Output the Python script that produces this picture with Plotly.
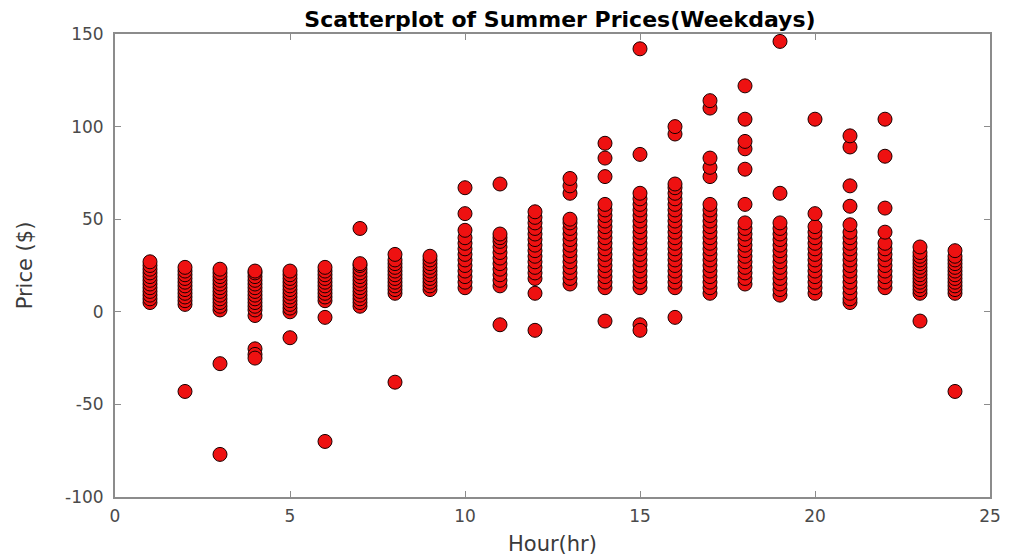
import plotly.graph_objects as go

hours = list(range(1, 25))
prices_by_hour = [
    [5, 7, 9, 11, 13, 15, 17, 19, 21, 23, 25, 27],                         # 1
    [4, 6, 8, 10, 12, 14, 16, 18, 20, 22, 24, -43],                        # 2
    [1, 3, 5, 7, 9, 11, 13, 15, 17, 19, 21, 23, -28, -77],                 # 3
    [-2, 1, 3, 5, 7, 9, 11, 13, 15, 17, 19, 21, 22, -20, -23, -25],        # 4
    [0, 2, 4, 6, 8, 10, 12, 14, 16, 18, 20, 22, -14],                      # 5
    [6, 8, 10, 12, 14, 16, 18, 20, 22, 24, -3, -70],                       # 6
    [3, 5, 7, 9, 11, 13, 15, 17, 19, 21, 23, 25, 26, 45],                  # 7
    [10, 12, 14, 16, 18, 20, 22, 24, 26, 28, 31, -38],                     # 8
    [12, 14, 16, 18, 20, 22, 24, 26, 28, 30],                              # 9
    [13, 16, 19, 22, 25, 28, 31, 34, 37, 40, 44, 53, 67],                  # 10
    [14, 17, 20, 23, 26, 29, 32, 35, 38, 40, 42, 69, -7],                  # 11
    [18, 21, 24, 27, 30, 33, 36, 39, 42, 45, 48, 51, 54, 10, -10],         # 12
    [15, 18, 21, 24, 27, 30, 33, 36, 39, 42, 45, 48, 50, 64, 68, 72],      # 13
    [13, 16, 19, 22, 25, 28, 31, 34, 37, 40, 43, 46, 49, 52, 55, 58,
     73, 83, 91, -5],                                                      # 14
    [13, 16, 19, 22, 25, 28, 31, 34, 37, 40, 43, 46, 49, 52, 55, 58,
     61, 64, 85, 142, -7, -10],                                            # 15
    [13, 16, 19, 22, 25, 28, 31, 34, 37, 40, 43, 46, 49, 52, 55, 58,
     61, 64, 67, 69, 96, 100, -3],                                         # 16
    [10, 13, 16, 19, 22, 25, 28, 31, 34, 37, 40, 43, 46, 49, 52, 55,
     58, 73, 78, 83, 110, 114],                                            # 17
    [15, 18, 21, 24, 27, 30, 33, 36, 39, 42, 45, 48, 58, 77, 88, 92,
     104, 122],                                                            # 18
    [9, 12, 15, 18, 21, 24, 27, 30, 33, 36, 39, 42, 45, 48, 64, 146],      # 19
    [10, 13, 16, 19, 22, 25, 28, 31, 34, 37, 40, 43, 46, 53, 104],         # 20
    [5, 7, 10, 13, 16, 19, 22, 25, 28, 31, 34, 37, 40, 43, 47, 57, 68,
     89, 95],                                                              # 21
    [13, 16, 19, 22, 25, 28, 31, 34, 37, 43, 56, 84, 104],                 # 22
    [10, 12, 14, 16, 18, 20, 22, 24, 26, 28, 30, 32, 35, -5],              # 23
    [10, 12, 14, 16, 18, 20, 22, 24, 26, 28, 30, 33, -43],                 # 24
]

x_ticks = [0, 5, 10, 15, 20, 25]
x_tick_labels = ["0", "5", "10", "15", "20", "25"]
y_ticks = [-100, -50, 0, 50, 100, 150]
y_tick_labels = ["-100", "-50", "0", "50", "100", "150"]

xs, ys = [], []
for h, vals in zip(hours, prices_by_hour):
    for v in vals:
        xs.append(h)
        ys.append(v)

FONT = "DejaVu Sans, Verdana, sans-serif"

fig = go.Figure(go.Scatter(
    x=xs, y=ys, mode="markers",
    marker=dict(size=14, color="#ee1111", line=dict(color="#1a0000", width=1)),
    hoverinfo="x+y",
))

axis_common = dict(
    showgrid=False, zeroline=False, showline=True, linecolor="#8c8c8c", linewidth=2,
    mirror="ticks", ticks="inside", ticklen=6, tickwidth=1, tickcolor="#8c8c8c",
    tickfont=dict(family=FONT, size=17, color="#4a4a4a"),
)

fig.update_layout(
    width=1010, height=558,
    margin=dict(l=107, r=28, t=26, b=69),
    paper_bgcolor="white", plot_bgcolor="white",
    showlegend=False,
    title=dict(text="<b>Scatterplot of Summer Prices(Weekdays)</b>",
               x=0.5465, xanchor="center", y=0.979, yanchor="middle",
               font=dict(family=FONT, size=22, color="black")),
    xaxis=dict(range=[0, 25], tickvals=x_ticks, ticktext=x_tick_labels,
               ticklabelstandoff=3,
               title=dict(text="Hour(hr)", standoff=11,
                          font=dict(family=FONT, size=21, color="#3a3a3a")),
               **axis_common),
    yaxis=dict(range=[-100, 150], tickvals=y_ticks, ticktext=y_tick_labels,
               ticklabelstandoff=6,
               title=dict(text="Price ($)", standoff=27,
                          font=dict(family=FONT, size=21, color="#3a3a3a")),
               **axis_common),
)

fig.write_html("out.html")
